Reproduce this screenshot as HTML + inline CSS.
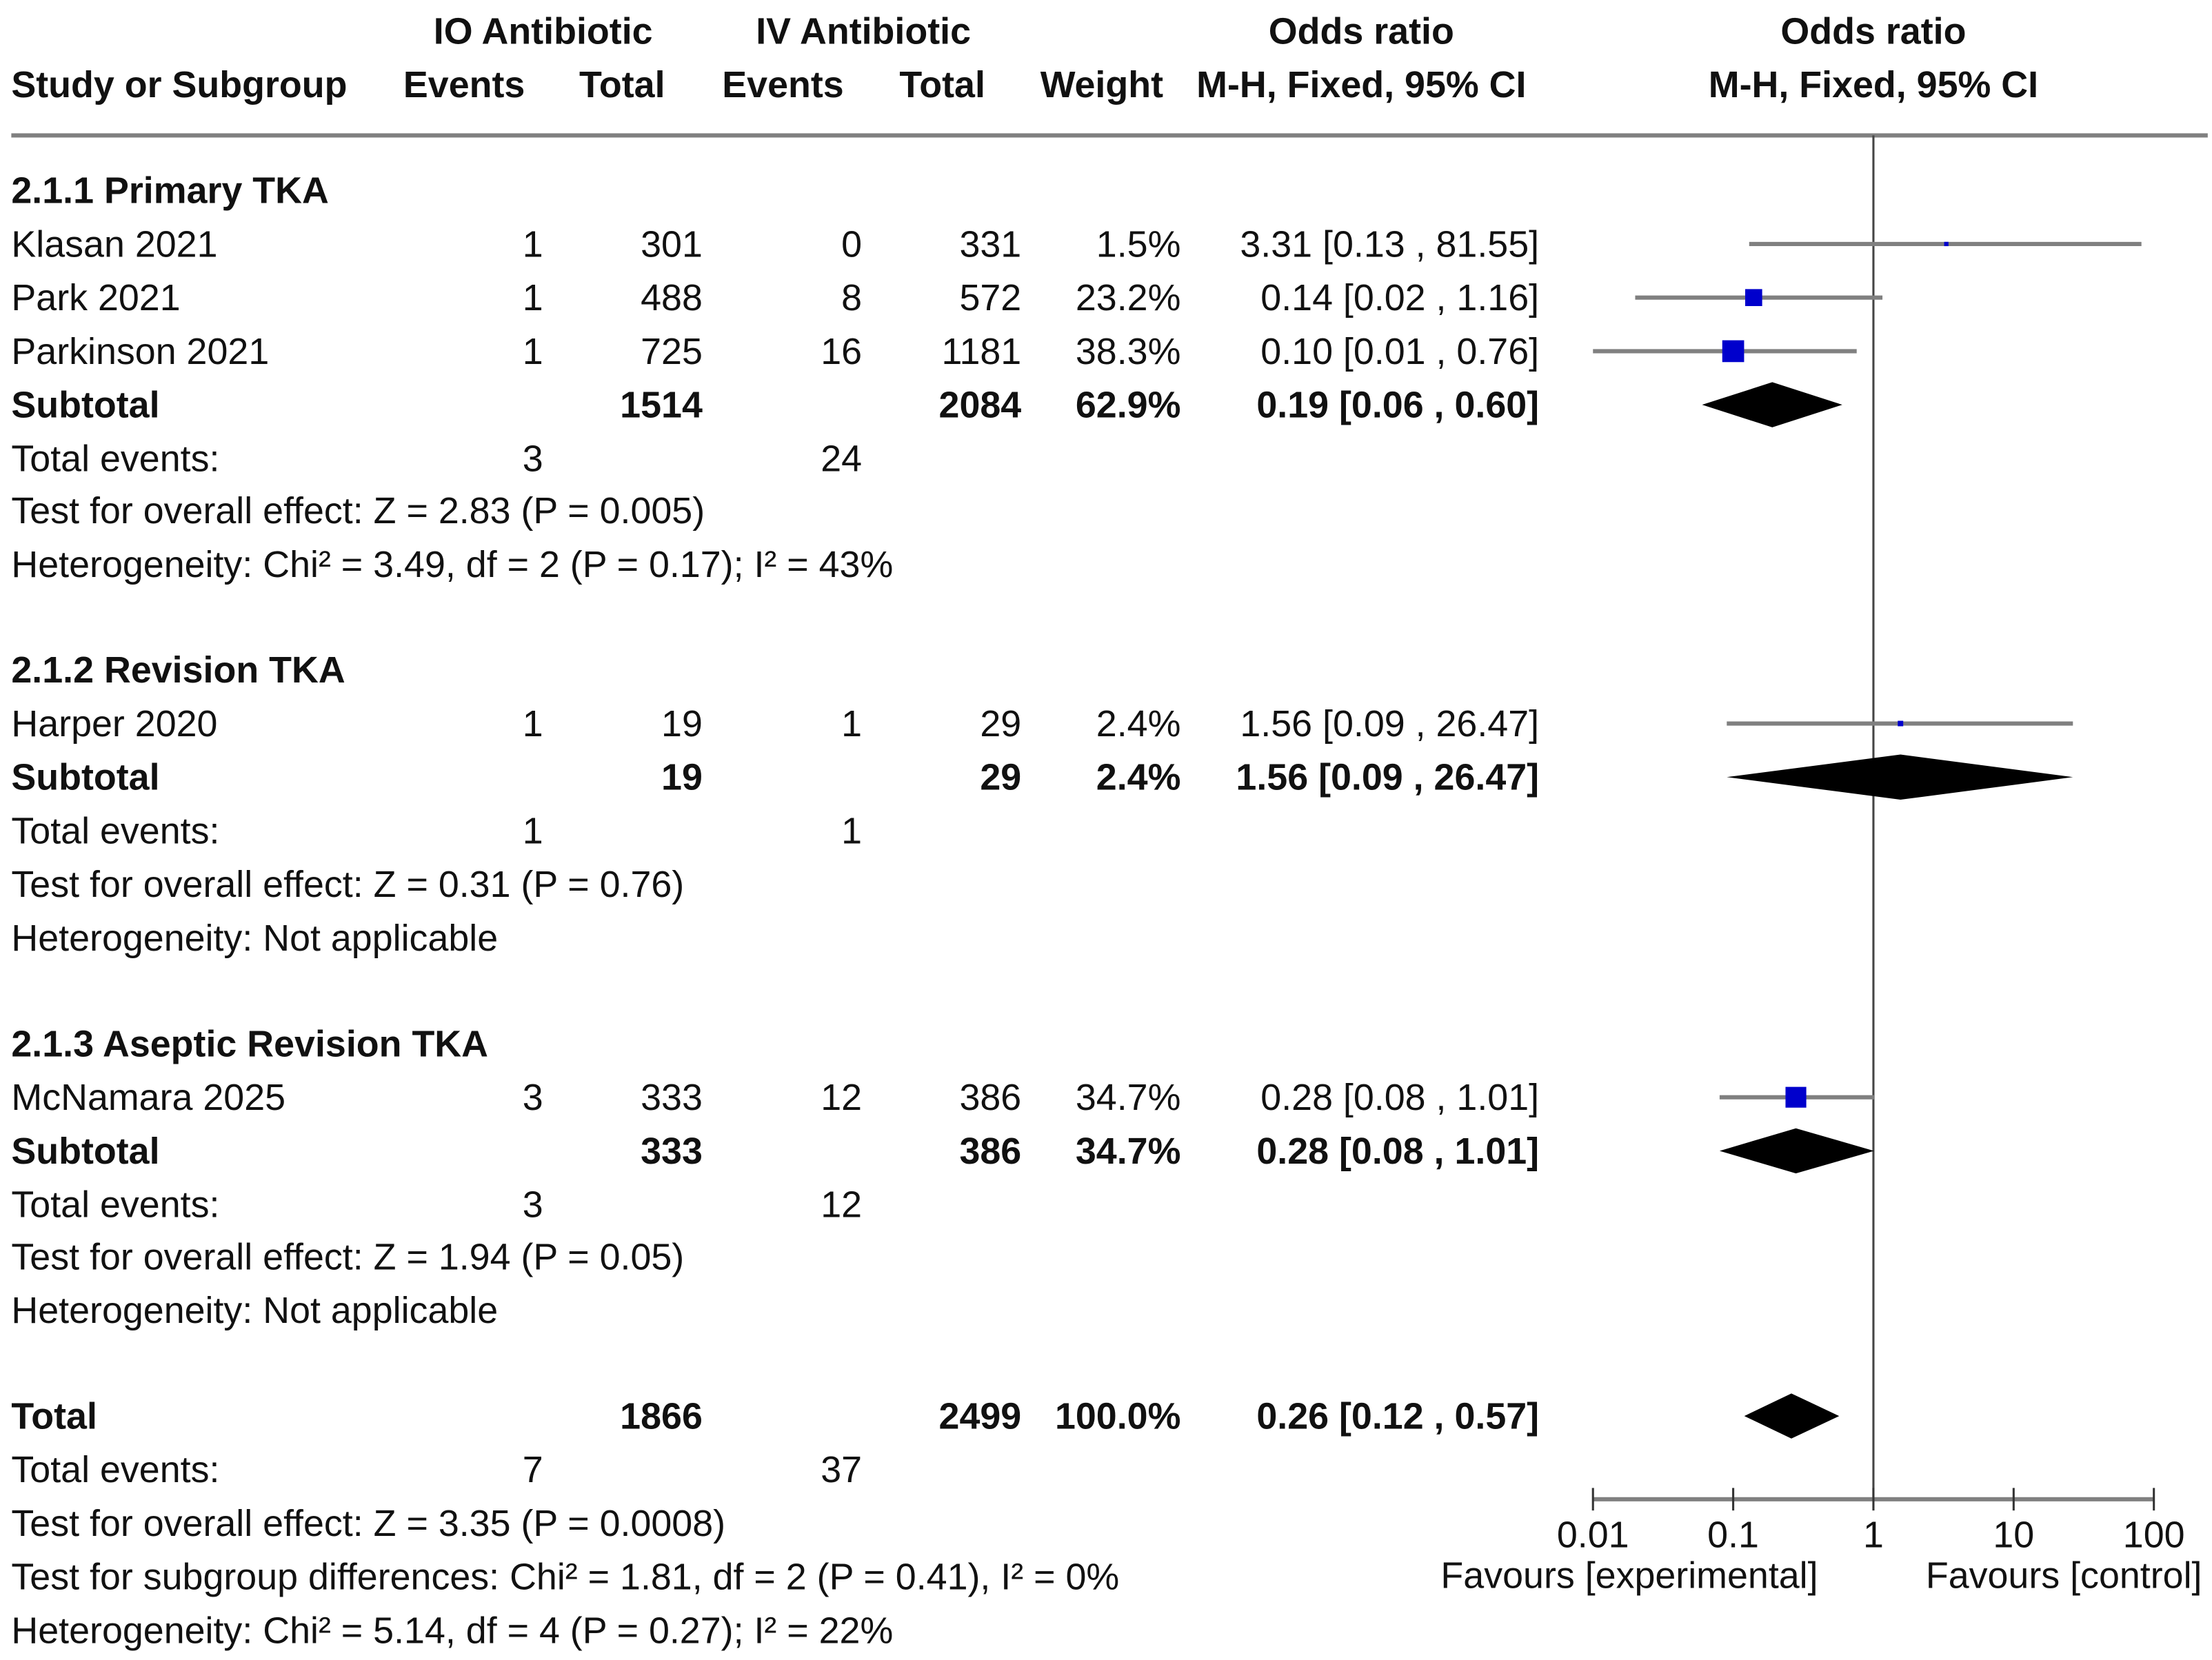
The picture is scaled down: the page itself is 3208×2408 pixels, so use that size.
<!DOCTYPE html>
<html><head><meta charset="utf-8"><style>
html,body{margin:0;padding:0;background:#fff;}
svg{display:block;}
text{font-family:"Liberation Sans",Arial,sans-serif;font-size:26.3px;fill:#111;}
.b{font-weight:bold;}
</style></head><body>
<svg id="chart" width="3208" height="2408" viewBox="0 0 1568 1177" xmlns="http://www.w3.org/2000/svg">
<g id="hdr">
<text class="b" x="385" y="31" text-anchor="middle">IO Antibiotic</text>
<text class="b" x="612" y="31" text-anchor="middle">IV Antibiotic</text>
<text class="b" x="965" y="31" text-anchor="middle">Odds ratio</text>
<text class="b" x="1328" y="31" text-anchor="middle">Odds ratio</text>
<text class="b" x="8" y="69">Study or Subgroup</text>
<text class="b" x="329" y="69" text-anchor="middle">Events</text>
<text class="b" x="441" y="69" text-anchor="middle">Total</text>
<text class="b" x="555" y="69" text-anchor="middle">Events</text>
<text class="b" x="668" y="69" text-anchor="middle">Total</text>
<text class="b" x="781" y="69" text-anchor="middle">Weight</text>
<text class="b" x="965" y="69" text-anchor="middle">M-H, Fixed, 95% CI</text>
<text class="b" x="1328" y="69" text-anchor="middle">M-H, Fixed, 95% CI</text>
<line x1="8" y1="96" x2="1565" y2="96" stroke="#808080" stroke-width="3"/>
</g>
<g id="rows"></g>
<g id="plot"></g>
</svg>
<script>
const rowLabels = ["2.1.1 Primary TKA","Klasan 2021","Park 2021","Parkinson 2021","Subtotal","Total events:","Test for overall effect: Z = 2.83 (P = 0.005)","Heterogeneity: Chi² = 3.49, df = 2 (P = 0.17); I² = 43%",
"2.1.2 Revision TKA","Harper 2020","Subtotal","Total events:","Test for overall effect: Z = 0.31 (P = 0.76)","Heterogeneity: Not applicable",
"2.1.3 Aseptic Revision TKA","McNamara 2025","Subtotal","Total events:","Test for overall effect: Z = 1.94 (P = 0.05)","Heterogeneity: Not applicable",
"Total","Total events:","Test for overall effect: Z = 3.35 (P = 0.0008)","Test for subgroup differences: Chi² = 1.81, df = 2 (P = 0.41), I² = 0%","Heterogeneity: Chi² = 5.14, df = 4 (P = 0.27); I² = 22%"];
const rowIoEvents = ["","1","1","1","","3","","", "","1","","1","","", "","3","","3","","", "","7","","",""];
const rowIoTotal  = ["","301","488","725","1514","","","", "","19","19","","","", "","333","333","","","", "1866","","","",""];
const rowIvEvents = ["","0","8","16","","24","","", "","1","","1","","", "","12","","12","","", "","37","","",""];
const rowIvTotal  = ["","331","572","1181","2084","","","", "","29","29","","","", "","386","386","","","", "2499","","","",""];
const rowWeight   = ["","1.5%","23.2%","38.3%","62.9%","","","", "","2.4%","2.4%","","","", "","34.7%","34.7%","","","", "100.0%","","","",""];
const rowCI       = ["","3.31 [0.13 , 81.55]","0.14 [0.02 , 1.16]","0.10 [0.01 , 0.76]","0.19 [0.06 , 0.60]","","","", "","1.56 [0.09 , 26.47]","1.56 [0.09 , 26.47]","","","", "","0.28 [0.08 , 1.01]","0.28 [0.08 , 1.01]","","","", "0.26 [0.12 , 0.57]","","","",""];
const rowBold     = [1,0,0,0,1,0,0,0, 1,0,1,0,0,0, 1,0,1,0,0,0, 1,0,0,0,0];
const rowY        = [135,173,211,249,287,325,362,400, 475,513,551,589,627,665, 740,778,816,854,891,929, 1004,1042,1080,1118,1156];

const studyNames = ["Klasan 2021","Park 2021","Parkinson 2021","Harper 2020","McNamara 2025"];
const studyOR    = [3.31,0.14,0.10,1.56,0.28];
const studyLo    = [0.13,0.02,0.01,0.09,0.08];
const studyHi    = [81.55,1.16,0.76,26.47,1.01];
const studyW     = [1.5,23.2,38.3,2.4,34.7];
const studyRow   = [1,2,3,9,15];
const poolNames = ["subtotal-primary","subtotal-revision","subtotal-aseptic","total"];
const poolOR = [0.19,1.56,0.28,0.26];
const poolLo = [0.06,0.09,0.08,0.12];
const poolHi = [0.60,26.47,1.01,0.57];
const poolRow = [4,10,16,20];
const tickVals = [0.01,0.1,1,10,100];
const tickLabels = ["0.01","0.1","1","10","100"];

const NS="http://www.w3.org/2000/svg";
const X0=1328, DEC=99.4;
function xs(v){return X0+Math.log10(v)*DEC;}
function mk(tag,attrs,parent){const e=document.createElementNS(NS,tag);for(const k in attrs)e.setAttribute(k,attrs[k]);parent.appendChild(e);return e;}

const rows=document.getElementById('rows');
const cols=[[rowIoEvents,385,'io-events'],[rowIoTotal,498,'io-total'],[rowIvEvents,611,'iv-events'],[rowIvTotal,724,'iv-total'],[rowWeight,837,'weight'],[rowCI,1091,'odds-ratio-ci']];
rowLabels.forEach((lab,i)=>{
  const y=rowY[i]+9;
  const t=mk('text',{x:8,y:y},rows);
  
  
  if(rowBold[i]) t.setAttribute('class','b');
  t.textContent=lab;
  cols.forEach(c=>{
    const v=c[0][i]; if(!v) return;
    const e=mk('text',{x:c[1],y:y,'text-anchor':'end'},rows);
    
    
    if(rowBold[i] && c[2]!=='io-events' && c[2]!=='iv-events') e.setAttribute('class','b');
    e.textContent=v;
  });
});

const plot=document.getElementById('plot');
const vl=mk('line',{x1:X0,y1:96,x2:X0,y2:1063,stroke:'#444','stroke-width':1.5},plot);


studyOR.forEach((o,i)=>{
  const y=rowY[studyRow[i]];
  const l=mk('line',{x1:xs(studyLo[i]),y1:y,x2:xs(studyHi[i]),y2:y,stroke:'#808080','stroke-width':3},plot);
  
  
  const s=Math.max(2.5,Math.sqrt(studyW[i])*2.5);
  const r=mk('rect',{x:xs(o)-s/2,y:y-s/2,width:s,height:s,fill:'#0000cc'},plot);
  
  
});
poolOR.forEach((o,i)=>{
  const y=rowY[poolRow[i]], h=16;
  const p=mk('polygon',{points:`${xs(poolLo[i])},${y} ${xs(o)},${y-h} ${xs(poolHi[i])},${y} ${xs(o)},${y+h}`,fill:'#000'},plot);
  
  
});
const ax=mk('line',{x1:xs(tickVals[0]),y1:1063,x2:xs(tickVals[tickVals.length-1]),y2:1063,stroke:'#808080','stroke-width':3},plot);


tickVals.forEach((v,i)=>{
  const tk=mk('line',{x1:xs(v),y1:1055,x2:xs(v),y2:1071,stroke:'#333','stroke-width':1.5},plot);
  
  
  const tl=mk('text',{x:xs(v),y:1097,'text-anchor':'middle'},plot);
  
  
  tl.textContent=tickLabels[i];
});
const f1=mk('text',{x:1155,y:1126,'text-anchor':'middle'},plot);


f1.textContent='Favours [experimental]';
const f2=mk('text',{x:1463,y:1126,'text-anchor':'middle'},plot);


f2.textContent='Favours [control]';
</script>
</body></html>
